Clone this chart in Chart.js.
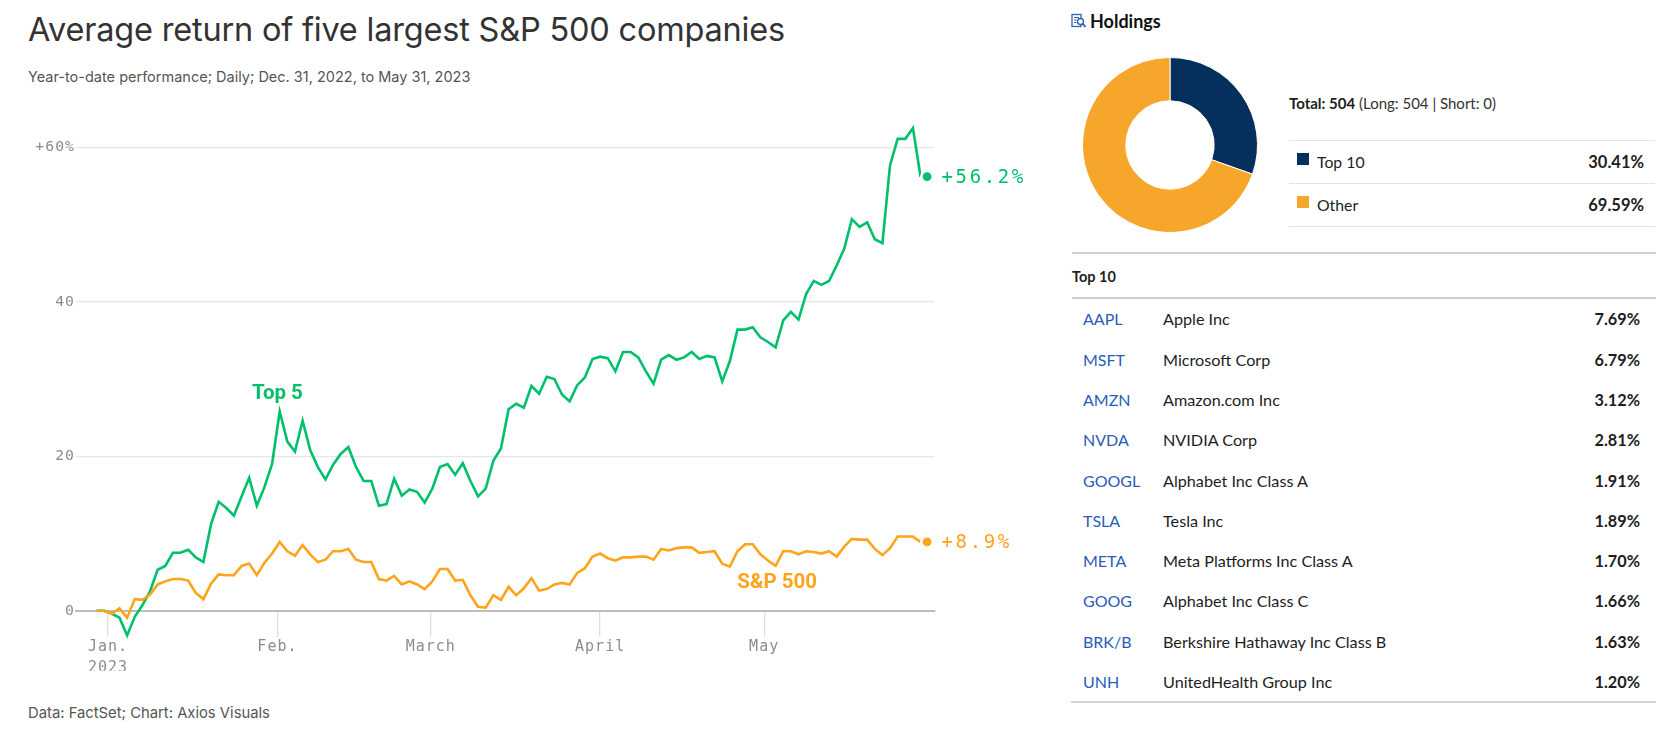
<!DOCTYPE html>
<html>
<head>
<meta charset="utf-8">
<title>Average return of five largest S&amp;P 500 companies</title>
<script src="https://cdn.jsdelivr.net/npm/chart.js@4.4.1/dist/chart.umd.min.js"></script>
<style>
  html, body { margin: 0; padding: 0; background: #fff; }
  body { width: 1668px; height: 738px; position: relative; overflow: hidden; font-family: Inter, Roboto, sans-serif; }
  .abs { position: absolute; white-space: nowrap; }
  #title { left: 28px; top: 12px; font-size: 32.5px; line-height: 36px; color: #333; letter-spacing: -0.2px; }
  #subtitle { left: 28px; top: 67px; font-size: 14.5px; line-height: 20px; color: #555; }
  #footer { left: 28px; top: 703px; font-size: 14.8px; line-height: 20px; color: #555; }
  #lineChart { position: absolute; left: 0; top: 0; }
  #donutChart { position: absolute; left: 1082px; top: 57px; }
  .panel { font-family: Lato, "Open Sans", sans-serif; color: #1e1e1e; }
  .rule { position: absolute; height: 0; }
  .sq { position: absolute; width: 12px; height: 12px; }
  .txt { height: 20px; line-height: 20px; }
  .ticker { color: #2a5cb8; font-size: 16px; }
  .name { font-size: 16.2px; }
  .pct { font-size: 16.3px; font-weight: 700; text-align: right; }
</style>
</head>
<body>
<div class="abs" id="title">Average return of five largest S&amp;P 500 companies</div>
<div class="abs" id="subtitle">Year-to-date performance; Daily; Dec. 31, 2022, to May 31, 2023</div>
<div class="abs" id="footer">Data: FactSet; Chart: Axios Visuals</div>
<canvas id="lineChart" width="1040" height="738"></canvas>

<div class="panel" id="panel">
  <svg class="abs" style="left:1071px;top:13px" width="16" height="16" viewBox="0 0 16 16">
    <rect x="1" y="1.5" width="9" height="12" fill="none" stroke="#2f62b0" stroke-width="1.3"/>
    <path d="M3 4.5h5M3 7h2.5M3 9.5h2.5" stroke="#2f62b0" stroke-width="1"/>
    <circle cx="9.5" cy="8.5" r="3" fill="#fff" stroke="#2f62b0" stroke-width="1.4"/>
    <path d="M11.6 10.7l2.8 3.2" stroke="#2f62b0" stroke-width="1.9"/>
  </svg>
  <div class="abs txt" style="left:1090px;top:11px;font-size:18px;font-weight:700;color:#111">Holdings</div>
  <div class="abs txt" id="totalLine" style="left:1289px;top:93px;font-size:15px"></div>
  <canvas id="donutChart" width="176" height="176"></canvas>
  <div id="legendRows"></div>
  <div class="rule" style="left:1072px;top:252px;width:584px;border-top:2px solid #cfcfcf"></div>
  <div class="abs txt" style="left:1072px;top:267px;font-size:14.5px;font-weight:700">Top 10</div>
  <div class="rule" style="left:1072px;top:297px;width:584px;border-top:2px solid #cfcfcf"></div>
  <div id="holdingRows"></div>
  <div class="rule" style="left:1071px;top:701px;width:585px;border-top:2px solid #d6d6d6"></div>
</div>

<script>
// weekday index: 0 = Dec. 30, 2022 ... 108 = May 31, 2023
const topFive = [
  0, 0, -0.4, -0.9, -3.2, -0.8, 0.7, 2.5, 5.3, 5.8,
  7.5, 7.5, 7.9, 6.9, 6.3, 11.2, 14.1, 13.3, 12.3, 14.8,
  17.2, 13.6, 16.0, 19.0, 25.8, 21.9, 20.6, 24.6, 20.8, 18.6,
  17.0, 18.9, 20.3, 21.2, 18.6, 16.8, 16.8, 13.6, 13.8, 17.1,
  14.9, 15.7, 15.4, 14.0, 15.8, 18.6, 19.0, 17.6, 19.1, 16.8,
  14.8, 15.8, 19.4, 21.0, 26.1, 26.8, 26.3, 29.1, 28.1, 30.3,
  30.0, 28.0, 27.1, 29.2, 30.2, 32.6, 32.9, 32.7, 31.0, 33.5,
  33.5, 32.8, 31.0, 29.4, 32.5, 33.1, 32.5, 32.8, 33.5, 32.6,
  33.0, 32.8, 29.7, 32.3, 36.4, 36.4, 36.7, 35.4, 34.8, 34.1,
  37.6, 38.7, 37.7, 41.0, 42.7, 42.2, 42.7, 44.7, 46.9, 50.7,
  49.7, 50.3, 48.1, 47.6, 57.7, 61.1, 61.1, 62.5, 56.2
];
const sp500 = [
  0, 0, -0.4, 0.3, -0.9, 1.5, 1.4, 2.1, 3.4, 3.8,
  4.1, 4.1, 3.9, 2.3, 1.5, 3.5, 4.7, 4.6, 4.6, 5.8,
  6.1, 4.6, 6.2, 7.4, 8.9, 7.7, 7.1, 8.5, 7.3, 6.3,
  6.6, 7.7, 7.7, 8.0, 6.6, 6.3, 6.3, 4.1, 3.9, 4.5,
  3.4, 3.8, 3.4, 2.8, 3.8, 5.4, 5.4, 3.9, 4.0, 2.0,
  0.5, 0.4, 2.0, 1.4, 3.1, 2.0, 2.9, 4.2, 2.6, 2.8,
  3.4, 3.6, 3.4, 4.9, 5.5, 7.0, 7.4, 6.8, 6.5, 6.9,
  6.9, 7.0, 7.0, 6.6, 8.0, 7.8, 8.1, 8.2, 8.2, 7.5,
  7.6, 7.7, 6.1, 5.7, 7.7, 8.6, 8.6, 7.3, 6.5, 5.8,
  7.7, 7.7, 7.3, 7.7, 7.6, 7.4, 7.7, 7.0, 8.3, 9.3,
  9.2, 9.2, 8.0, 7.2, 8.1, 9.6, 9.6, 9.6, 8.9
];
const seriesNames = ['Top 5', 'S&P 500'];
const monthTickPos = [1.5, 23.7, 43.8, 66, 87.5];
const monthLabels = [['Jan.', '2023'], 'Feb.', 'March', 'April', 'May'];
const yTickValues = [0, 20, 40, 60];
const yTickLabels = ['0', '20', '40', '+60%'];

const holdingLabels = ['Top 10', 'Other'];
const holdingValues = [30.41, 69.59];
const holdingCounts = { total: 504, long: 504, short: 0 };
const tickers = ['AAPL', 'MSFT', 'AMZN', 'NVDA', 'GOOGL', 'TSLA', 'META', 'GOOG', 'BRK/B', 'UNH'];
const companies = ['Apple Inc', 'Microsoft Corp', 'Amazon.com Inc', 'NVIDIA Corp', 'Alphabet Inc Class A',
  'Tesla Inc', 'Meta Platforms Inc Class A', 'Alphabet Inc Class C', 'Berkshire Hathaway Inc Class B',
  'UnitedHealth Group Inc'];
const weights = [7.69, 6.79, 3.12, 2.81, 1.91, 1.89, 1.70, 1.66, 1.63, 1.20];

const GREEN = '#00c06b';
const ORANGE = '#ffa41b';
const MONO = '"DejaVu Sans Mono", monospace';

// series name labels, placed in data units
const nameLabels = [
  { text: seriesNames[0], x: 23.7, y: 28.1, color: GREEN },
  { text: seriesNames[1], x: 89.2, y: 3.6, color: ORANGE }
];

const labelPlugin = {
  id: 'axiosLabels',
  beforeDraw(chart) {
    chart.ctx.letterSpacing = '1px';
  },
  afterDatasetsDraw(chart) {
    const ctx = chart.ctx;
    const xs = chart.scales.x, ys = chart.scales.y;
    ctx.save();
    chart.data.datasets.forEach((ds, di) => {
      const pts = chart.getDatasetMeta(di).data;
      const last = pts[pts.length - 1];
      const val = ds.data[ds.data.length - 1].y;
      const cx = last.x + 6.5, cy = last.y;
      ctx.beginPath();
      ctx.arc(cx, cy, 7, 0, Math.PI * 2);
      ctx.fillStyle = '#fff';
      ctx.fill();
      ctx.beginPath();
      ctx.arc(cx, cy, 4.4, 0, Math.PI * 2);
      ctx.fillStyle = ds.borderColor;
      ctx.fill();
      ctx.font = '19px ' + MONO;
      ctx.letterSpacing = '2.6px';
      ctx.textAlign = 'left';
      ctx.textBaseline = 'middle';
      ctx.fillText('+' + val.toFixed(1) + '%', cx + 14.5, cy + 1);
    });
    ctx.letterSpacing = '0px';
    ctx.font = 'bold 20.5px Roboto, sans-serif';
    ctx.textAlign = 'center';
    ctx.textBaseline = 'middle';
    nameLabels.forEach(l => {
      ctx.fillStyle = l.color;
      ctx.fillText(l.text, xs.getPixelForValue(l.x), ys.getPixelForValue(l.y));
    });
    ctx.restore();
  }
};

new Chart(document.getElementById('lineChart'), {
  type: 'line',
  data: {
    datasets: [
      {
        label: seriesNames[0],
        data: topFive.map((v, i) => ({ x: i, y: v })),
        borderColor: GREEN,
        borderWidth: 2.6,
        pointRadius: 0,
        tension: 0,
        clip: false,
        order: 1
      },
      {
        label: seriesNames[1],
        data: sp500.map((v, i) => ({ x: i, y: v })),
        borderColor: ORANGE,
        borderWidth: 2.6,
        pointRadius: 0,
        tension: 0,
        clip: false,
        order: 0
      }
    ]
  },
  options: {
    responsive: false,
    animation: false,
    layout: { padding: { left: 0, top: 124.2, right: 105.7, bottom: 67.3 } },
    plugins: { legend: { display: false }, tooltip: { enabled: false } },
    scales: {
      x: {
        type: 'linear',
        min: -2.7,
        max: 109.8,
        afterBuildTicks: (scale) => { scale.ticks = monthTickPos.map(v => ({ value: v })); },
        afterFit: (scale) => { scale.height = 60; },
        border: { display: true, color: '#bdbdbd', width: 2 },
        grid: { drawOnChartArea: false, drawTicks: true, tickLength: 26, color: '#dedede', lineWidth: 1.3 },
        ticks: {
          autoSkip: false,
          maxRotation: 0,
          padding: 0,
          color: '#8c8c8c',
          font: { family: MONO, size: 15, lineHeight: 1.38 },
          callback: (value, index) => monthLabels[index]
        }
      },
      y: {
        min: 0,
        max: 63,
        afterBuildTicks: (scale) => { scale.ticks = yTickValues.map(v => ({ value: v })); },
        afterFit: (scale) => { scale.width = 76; },
        border: { display: false },
        grid: {
          drawTicks: false,
          color: (c) => c.tick && c.tick.value === 0 ? 'rgba(0,0,0,0)' : '#e6e6e6',
          lineWidth: 1.3
        },
        ticks: {
          padding: 1,
          color: '#8c8c8c',
          font: { family: MONO, size: 14.8 },
          callback: (value, index) => yTickLabels[index]
        }
      }
    }
  },
  plugins: [labelPlugin]
});

// Holdings doughnut
const donutColors = ['#05305d', '#f5a62b'];
new Chart(document.getElementById('donutChart'), {
  type: 'doughnut',
  data: {
    labels: holdingLabels,
    datasets: [{ data: holdingValues, backgroundColor: donutColors, borderColor: '#fff', borderWidth: 1 }]
  },
  options: {
    responsive: false,
    animation: false,
    cutout: '50.5%',
    layout: { padding: 0 },
    plugins: { legend: { display: false }, tooltip: { enabled: false } }
  }
});

document.getElementById('totalLine').innerHTML =
  '<b>Total: ' + holdingCounts.total + '</b> <span style="color:#333">(Long: ' + holdingCounts.long +
  ' | Short: ' + holdingCounts.short + ')</span>';

let legendHtml = '';
const legendTops = [140, 183, 226];
legendTops.forEach(t => {
  legendHtml += '<div class="rule" style="left:1289px;top:' + t + 'px;width:366px;border-top:1px solid #e2e2e2"></div>';
});
holdingLabels.forEach((lab, i) => {
  const cy = 162 + i * 43;
  legendHtml += '<div class="sq" style="left:1297px;top:' + (cy - 9) + 'px;background:' + donutColors[i] + '"></div>';
  legendHtml += '<div class="abs txt" style="left:1317px;top:' + (cy - 10) + 'px;font-size:15.8px">' + lab + '</div>';
  legendHtml += '<div class="abs txt pct" style="right:24px;top:' + (cy - 10) + 'px;font-size:16.5px">' +
    holdingValues[i].toFixed(2) + '%</div>';
});
document.getElementById('legendRows').innerHTML = legendHtml;

let rowsHtml = '';
tickers.forEach((t, i) => {
  const cy = 319.3 + i * 40.3;
  const top = (cy - 10).toFixed(1);
  rowsHtml += '<div class="abs txt ticker" style="left:1083px;top:' + top + 'px">' + t + '</div>';
  rowsHtml += '<div class="abs txt name" style="left:1163px;top:' + top + 'px">' + companies[i] + '</div>';
  rowsHtml += '<div class="abs txt pct" style="right:28px;top:' + top + 'px">' + weights[i].toFixed(2) + '%</div>';
});
document.getElementById('holdingRows').innerHTML = rowsHtml;
</script>
</body>
</html>
